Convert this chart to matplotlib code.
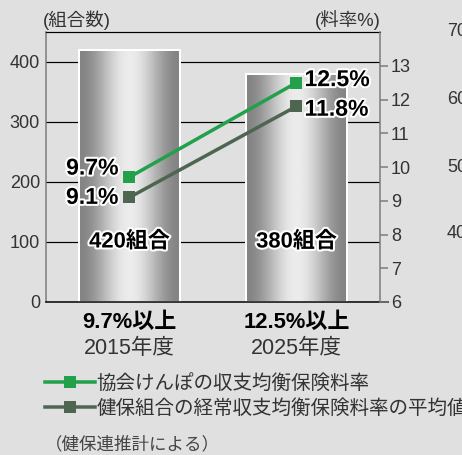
# plot.py
# Kenpo unions vs. balanced premium rate, 2015 and 2025

import matplotlib.pyplot as plt
import numpy as np
from matplotlib import patheffects as pe
from matplotlib.colors import LinearSegmentedColormap
from matplotlib.lines import Line2D

plt.rcParams["font.family"] = ["Liberation Sans", "Noto Sans CJK JP", "DejaVu Sans"]

# Data
years = ["2015年度", "2025年度"]
thresholds = ["9.7%以上", "12.5%以上"]
unions = [420, 380]  # number of unions (left axis)
kyokai = [9.7, 12.5]  # rate %, right axis
kenpo = [9.1, 11.8]
series_names = ["協会けんぽの収支均衡保険料率", "健保組合の経常収支均衡保険料率の平均値"]
left_ticks = [0, 100, 200, 300, 400]
right_ticks = [6, 7, 8, 9, 10, 11, 12, 13]
neighbor_ticks = ["70", "60", "50", "40"]  # cut-off labels of the next chart

BG = "#e0e0e0"
GREEN = "#22a04b"
DARK = "#4e6651"
TEXT = "#333333"
SPINE = "#7a7a7a"

W, H = 462, 455
fig = plt.figure(figsize=(W / 72, H / 72), dpi=72, facecolor=BG)
ax = fig.add_axes([46 / W, 1 - 302 / H, 334 / W, 270 / H])
ax.set_facecolor("none")

x = np.arange(len(years))
bars = ax.bar(x, unions, width=0.6, color="none", edgecolor="white", lw=2, zorder=2)

# metallic horizontal gradient inside each bar
t = np.linspace(0, 1, 200)
grad = (0.5 - 0.5 * np.cos(2 * np.pi * t))[None, :]
cmap = LinearSegmentedColormap.from_list("metal", ["#848484", "#ececec"])
for b in bars:
    im = ax.imshow(grad, extent=[b.get_x(), b.get_x() + b.get_width(), 0, b.get_height()],
                   aspect="auto", cmap=cmap, zorder=1.9)
    im.set_clip_path(b)

outline = [pe.withStroke(linewidth=4, foreground="white")]
for xi, n in zip(x, unions):
    ax.text(xi, 100, f"{n}組合", ha="center", va="center", fontsize=22,
            fontweight="bold", color="black", path_effects=outline, zorder=3)

ax.set_xlim(-0.5, 1.5)
ax.set_ylim(0, 450)
ax.set_yticks(left_ticks)
ax.set_xticks([])
ax.tick_params(axis="y", length=0, pad=6, labelsize=18, labelcolor=TEXT)
ax.yaxis.grid(True, color="black", lw=1.2)
ax.set_axisbelow(True)
ax.spines["left"].set_color(SPINE)
ax.spines["left"].set_linewidth(1.5)
ax.spines["top"].set_color("black")
ax.spines["top"].set_linewidth(1.2)
ax.spines["right"].set_visible(False)
ax.spines["bottom"].set_visible(False)
ax.add_line(Line2D([0, 1.025], [0, 0], transform=ax.transAxes, color="black",
                   lw=1.5, clip_on=False, zorder=5))

for xi, th, yr in zip(x, thresholds, years):
    ax.annotate(th, xy=(xi, 0), xycoords=("data", "axes fraction"), xytext=(0, -21),
                textcoords="offset points", ha="center", va="center", fontsize=22,
                fontweight="bold", color="black")
    ax.annotate(yr, xy=(xi, 0), xycoords=("data", "axes fraction"), xytext=(0, -46),
                textcoords="offset points", ha="center", va="center", fontsize=21.5,
                color=TEXT)

# rate lines on the right axis
ax2 = ax.twinx()
ax2.set_ylim(6, 14)
ax2.set_yticks(right_ticks)
ax2.plot(x, kyokai, color=GREEN, lw=3.5, marker="s", ms=12, mew=0)
ax2.plot(x, kenpo, color=DARK, lw=3.5, marker="s", ms=12, mew=0)
for s in ["left", "top", "bottom"]:
    ax2.spines[s].set_visible(False)
ax2.spines["right"].set_color(SPINE)
ax2.spines["right"].set_linewidth(1.5)
ax2.tick_params(axis="y", direction="out", length=8, width=1.5, color=SPINE,
                labelsize=18, labelcolor=TEXT, pad=3)

offsets = [((-11, 9), (8, 3)), ((-11, 0), (8, -3))]
for vals, offs in zip([kyokai, kenpo], offsets):
    for xi, v, off in zip(x, vals, offs):
        ax2.annotate(f"{v}%", xy=(xi, v), xytext=off, textcoords="offset points",
                     ha="right" if off[0] < 0 else "left", va="center", fontsize=23,
                     fontweight="bold", color="black", path_effects=outline)

fig.text(43 / W, 1 - 20 / H, "(組合数)", ha="left", va="center", fontsize=18.5, color=TEXT)
fig.text(381 / W, 1 - 20 / H, "(料率%)", ha="right", va="center", fontsize=18.5, color=TEXT)

for lab, yy in zip(neighbor_ticks, [32, 99, 167, 234]):
    fig.text(447 / W, 1 - yy / H, lab, ha="left", va="center", fontsize=18, color=TEXT)

handles = [Line2D([], [], color=c, lw=3.5, marker="s", ms=12, mew=0) for c in [GREEN, DARK]]
fig.legend(handles, series_names, loc="upper left", bbox_to_anchor=(45 / W, 1 - 374 / H),
           frameon=False, fontsize=19.5, handlelength=2.55, handletextpad=0.1,
           labelspacing=0.3, borderpad=0, borderaxespad=0, labelcolor=TEXT)

fig.text(45 / W, 1 - 445 / H, "（健保連推計による）", ha="left", va="center",
         fontsize=17.5, color="#444444")

fig.savefig("out.png", facecolor=BG)
